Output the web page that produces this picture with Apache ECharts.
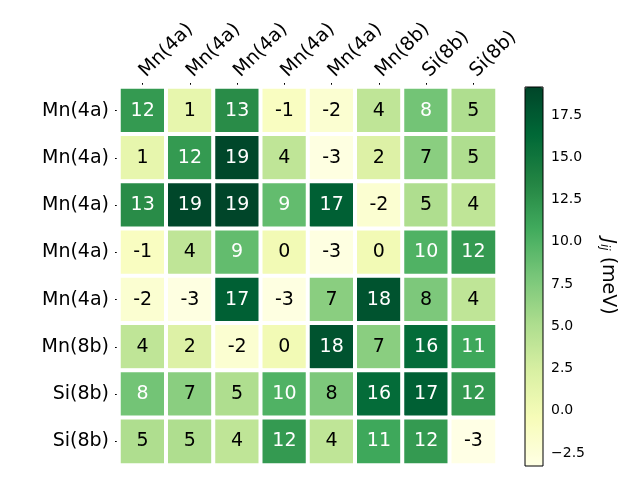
<!DOCTYPE html>
<html>
<head>
<meta charset="utf-8">
<script src="https://cdn.jsdelivr.net/npm/echarts@6/dist/echarts.min.js"></script>
<style>
  html, body { margin: 0; padding: 0; background: #fff; }
  #chart { width: 640px; height: 480px; }
</style>
</head>
<body>
<div id="chart"></div>
<script>
// site labels (rows and columns are the same list)
let sites = ['Mn(4a)', 'Mn(4a)', 'Mn(4a)', 'Mn(4a)', 'Mn(4a)', 'Mn(8b)', 'Si(8b)', 'Si(8b)'];
// exchange couplings J_ij in meV, row by row
let row0 = [12, 1, 13, -1, -2, 4, 8.2, 5];
let row1 = [1, 12, 19, 4, -3, 2, 7, 5];
let row2 = [13, 19, 19.16, 9, 17, -2, 5, 4];
let row3 = [-1, 4, 9, 0, -3, 0, 10, 12];
let row4 = [-2, -3, 17, -3, 7, 18, 7.7, 4];
let row5 = [4, 2, -2, 0, 18, 7, 16, 11];
let row6 = [8.2, 7, 5, 10, 7.7, 16, 17, 12];
let row7 = [5, 5, 4, 12, 4, 11, 12, -3.27];
let rows = [row0, row1, row2, row3, row4, row5, row6, row7];
// colourbar ticks
let cbTicks = [-2.5, 0, 2.5, 5, 7.5, 10, 12.5, 15, 17.5];

let vmin = Math.min(...rows.map(r => Math.min(...r)));
let vmax = Math.max(...rows.map(r => Math.max(...r)));
let threshold = vmin + (vmax - vmin) / 2;

// 引入 YlGn 色带
let ylgn = ['#ffffe5', '#f7fcb9', '#d9f0a3', '#addd8e', '#78c679', '#41ab5d', '#238443', '#006837', '#004529'];

let data = [];
rows.forEach((r, i) => {
  r.forEach((v, j) => {
    data.push({
      value: [j, i, v],
      label: { color: v > threshold ? '#fff' : '#000' }
    });
  });
});

let font = 'DejaVu Sans';
let myChart = echarts.init(document.getElementById('chart'));
let option = {
  animation: false,
  textStyle: { fontFamily: font },
  grid: [
    { left: 119, top: 87, width: 378, height: 378 },
    { left: 525, top: 87, width: 18, height: 379, show: true, borderColor: '#000', borderWidth: 1, backgroundColor: 'transparent', z: 10 }
  ],
  xAxis: [
    {
      type: 'category',
      gridIndex: 0,
      position: 'top',
      data: sites,
      axisLine: { show: false },
      axisTick: { show: true, alignWithLabel: true, length: 4, lineStyle: { color: '#000', width: 1 } },
      axisLabel: { rotate: -45, interval: 0, margin: 13, fontSize: 19, color: '#000', fontFamily: font },
      splitLine: { show: false }
    },
    { type: 'value', gridIndex: 1, show: false, min: 0, max: 1 }
  ],
  yAxis: [
    {
      type: 'category',
      gridIndex: 0,
      inverse: true,
      data: sites,
      axisLine: { show: false },
      axisTick: { show: true, alignWithLabel: true, length: 4, lineStyle: { color: '#000', width: 1 } },
      axisLabel: { interval: 0, margin: 10, fontSize: 19, color: '#000', fontFamily: font },
      splitLine: { show: false }
    },
    {
      type: 'value',
      gridIndex: 1,
      position: 'right',
      min: vmin,
      max: vmax,
      axisLine: { show: false },
      axisTick: { show: true, length: 4, customValues: cbTicks, lineStyle: { color: '#000' } },
      axisLabel: {
        margin: 8,
        fontSize: 14,
        color: '#000',
        fontFamily: font,
        customValues: cbTicks,
        formatter: v => v.toFixed(1).replace('-', '\u2212')
      },
      splitLine: { show: false },
      name: '{j|J}{s|ij} (meV)',
      nameLocation: 'middle',
      nameRotate: -90,
      nameGap: 55,
      nameTextStyle: {
        fontSize: 19,
        color: '#000',
        fontFamily: font,
        rich: {
          j: { fontSize: 19, fontStyle: 'italic', fontFamily: font, color: '#000' },
          s: { fontSize: 12, fontStyle: 'italic', fontFamily: font, color: '#000', verticalAlign: 'bottom', padding: [8, 0, 0, 0] }
        }
      }
    }
  ],
  visualMap: {
    type: 'continuous',
    seriesIndex: 0,
    min: vmin,
    max: vmax,
    calculable: false,
    hoverLink: false,
    left: 525,
    top: 87,
    itemWidth: 18,
    itemHeight: 379,
    padding: 0,
    text: null,
    inRange: { color: ylgn }
  },
  series: [
    {
      type: 'heatmap',
      xAxisIndex: 0,
      yAxisIndex: 0,
      data: data,
      itemStyle: { borderColor: '#fff', borderWidth: 4 },
      label: {
        show: true,
        fontSize: 19,
        fontFamily: font,
        formatter: p => String(Math.round(p.value[2]))
      },
      emphasis: { disabled: true }
    },
    { type: 'scatter', xAxisIndex: 1, yAxisIndex: 1, data: [] }
  ]
};
myChart.setOption(option);
</script>
</body>
</html>
